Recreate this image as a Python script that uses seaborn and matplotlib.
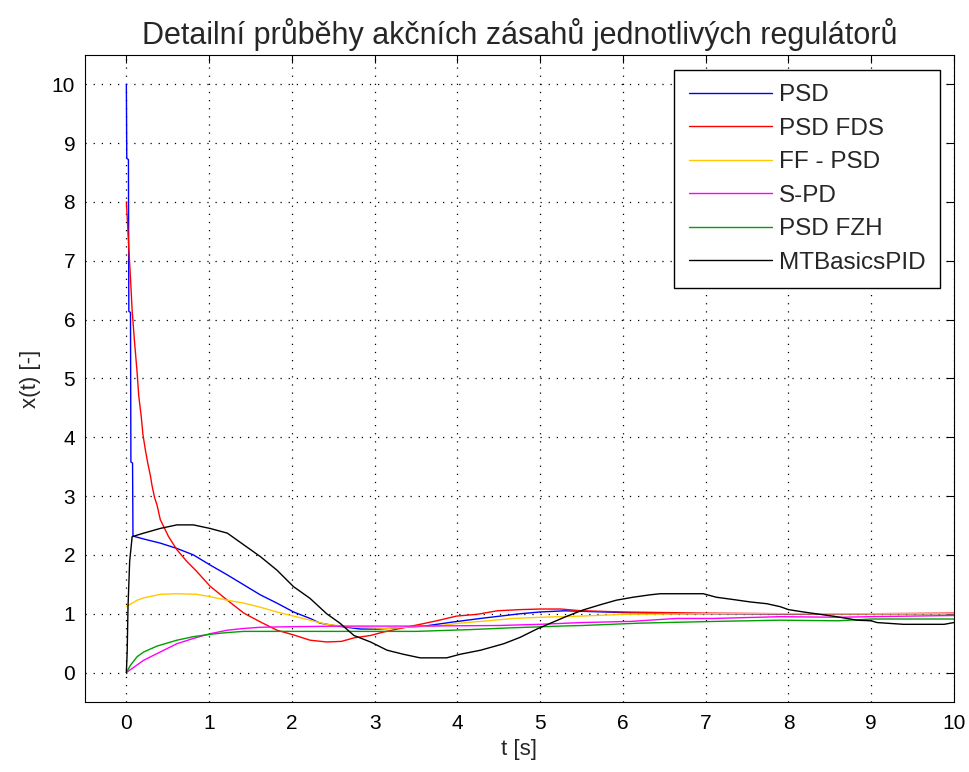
import numpy as np
import pandas as pd
import matplotlib
matplotlib.use("Agg")
import matplotlib.pyplot as plt
import seaborn as sns

# values
series_names = ["PSD", "PSD FDS", "FF - PSD", "S-PD", "PSD FZH", "MTBasicsPID"]
series_colors = ["#0000ff", "#ff0000", "#ffc800", "#ff00ff", "#00a000", "#000000"]

t_psd = [0, 0.005, 0.025, 0.03, 0.05, 0.055, 0.075, 0.08, 0.21, 0.41, 0.61, 0.81,
         1.01, 1.22, 1.42, 1.62, 1.82, 2.02, 2.22, 2.34, 2.55, 2.83, 3.05, 3.27,
         3.6, 3.75, 3.95, 4.28, 4.52, 4.76, 5.0, 5.3, 6.0, 6.6, 7.0, 8.0, 9.0, 10.0]
y_psd = [10, 8.74, 8.72, 6.14, 6.12, 3.58, 3.56, 2.32, 2.27, 2.2, 2.11, 2.0,
         1.83, 1.66, 1.49, 1.32, 1.18, 1.03, 0.92, 0.84, 0.79, 0.74, 0.74, 0.76,
         0.79, 0.82, 0.86, 0.92, 0.96, 1.0, 1.03, 1.05, 1.02, 1.0, 1.0, 0.99, 1.0, 1.0]

t_fds = [0, 0.01, 0.03, 0.05, 0.07, 0.1, 0.13, 0.15, 0.18, 0.2, 0.23, 0.26, 0.29,
         0.31, 0.34, 0.37, 0.41, 0.51, 0.61, 0.73, 0.85, 1.01, 1.22, 1.42, 1.62,
         1.82, 2.02, 2.22, 2.42, 2.6, 2.75, 2.95, 3.11, 3.31, 3.55, 3.75, 3.99,
         4.24, 4.48, 4.76, 5.0, 5.25, 5.5, 6.0, 6.5, 7.0, 8.0, 9.0, 10.0]
y_fds = [8.0, 7.75, 7.2, 6.7, 6.15, 5.6, 5.1, 4.7, 4.35, 4.05, 3.78, 3.55, 3.35,
         3.18, 2.98, 2.85, 2.6, 2.31, 2.09, 1.89, 1.72, 1.47, 1.23, 1.01, 0.86,
         0.72, 0.64, 0.55, 0.52, 0.53, 0.59, 0.63, 0.69, 0.75, 0.82, 0.88, 0.96,
         0.99, 1.05, 1.07, 1.08, 1.08, 1.05, 1.03, 1.02, 1.01, 1.0, 1.0, 1.01]

t_ff = [0, 0.13, 0.21, 0.41, 0.61, 0.85, 1.01, 1.22, 1.42, 1.62, 1.82, 2.02,
        2.22, 2.42, 2.67, 3.15, 3.47, 3.75, 4.03, 4.36, 4.68, 5.0, 5.5, 6.0,
        7.0, 8.0, 9.0, 10.0]
y_ff = [1.12, 1.23, 1.27, 1.33, 1.34, 1.33, 1.29, 1.23, 1.18, 1.11, 1.03, 0.96,
        0.89, 0.82, 0.78, 0.75, 0.78, 0.79, 0.84, 0.88, 0.92, 0.94, 0.96, 0.99,
        1.0, 1.0, 1.0, 1.0]

t_spd = [0, 0.21, 0.41, 0.61, 0.81, 1.01, 1.22, 1.42, 1.62, 2.02, 2.6, 3.5,
         4.5, 5.0, 5.5, 6.1, 6.65, 7.1, 7.9, 8.6, 9.0, 10.0]
y_spd = [0, 0.21, 0.35, 0.49, 0.58, 0.66, 0.72, 0.75, 0.77, 0.78, 0.79, 0.79,
         0.8, 0.82, 0.85, 0.87, 0.92, 0.92, 0.95, 0.94, 0.95, 0.97]

t_fzh = [0, 0.05, 0.13, 0.21, 0.37, 0.61, 0.81, 1.01, 1.22, 1.42, 1.62, 2.02,
         2.6, 3.5, 4.15, 4.64, 5.24, 5.51, 6.2, 7.13, 7.9, 8.6, 9.0, 10.0]
y_fzh = [0, 0.125, 0.27, 0.35, 0.45, 0.55, 0.61, 0.65, 0.68, 0.70, 0.70, 0.70,
         0.70, 0.70, 0.73, 0.76, 0.79, 0.80, 0.84, 0.87, 0.89, 0.88, 0.91, 0.91]

t_mtb = [0, 0.01, 0.02, 0.04, 0.07, 0.21, 0.41, 0.61, 0.81, 1.01, 1.22, 1.42,
         1.62, 1.82, 2.02, 2.22, 2.42, 2.58, 2.75, 2.95, 3.15, 3.35, 3.55, 3.87,
         4.03, 4.28, 4.56, 4.76, 4.96, 5.16, 5.31, 5.51, 5.72, 5.92, 6.12, 6.32,
         6.45, 6.97, 7.13, 7.34, 7.54, 7.74, 7.9, 8.0, 8.18, 8.38, 8.58, 8.83,
         9.0, 9.07, 9.39, 9.88, 10.0]
y_mtb = [0, 0.35, 1.12, 1.89, 2.31, 2.37, 2.45, 2.51, 2.51, 2.45, 2.37, 2.17,
         1.97, 1.74, 1.46, 1.26, 1.0, 0.84, 0.63, 0.52, 0.38, 0.31, 0.25, 0.25,
         0.31, 0.38, 0.49, 0.60, 0.74, 0.86, 0.95, 1.06, 1.15, 1.23, 1.28, 1.32,
         1.34, 1.34, 1.28, 1.24, 1.20, 1.17, 1.12, 1.07, 1.03, 0.99, 0.95, 0.89,
         0.88, 0.85, 0.82, 0.82, 0.85]

x_ticks = list(range(0, 11))
y_ticks = list(range(0, 11))

all_t = [t_psd, t_fds, t_ff, t_spd, t_fzh, t_mtb]
all_y = [y_psd, y_fds, y_ff, y_spd, y_fzh, y_mtb]
frames = []
for name, tt, yy in zip(series_names, all_t, all_y):
    frames.append(pd.DataFrame({"t": tt, "x": yy, "series": name}))
df = pd.concat(frames, ignore_index=True)

sns.set_style("white")
plt.rcParams["font.family"] = ["Liberation Sans", "DejaVu Sans"]

fig = plt.figure(figsize=(9.7, 7.72), dpi=100)
fig.patch.set_facecolor("white")
ax = fig.add_axes([0.0876, 0.0907, 0.8959, 0.8383])

sns.lineplot(data=df, x="t", y="x", hue="series", hue_order=series_names,
             palette=dict(zip(series_names, series_colors)), sort=False,
             estimator=None, linewidth=1.0, ax=ax)

ax.set_xlim(-0.5, 10)
ax.set_ylim(-0.5, 10.5)
ax.set_xticks(x_ticks)
ax.set_yticks(y_ticks)
ax.grid(True, linestyle=(0, (1, 5.5)), color="black", linewidth=0.9)
ax.tick_params(direction="in", length=6, width=0.8, top=True, right=True,
               labelsize=15, colors="black")
ax.tick_params(axis="x", pad=9)
ax.tick_params(axis="y", pad=7)
for sp in ax.spines.values():
    sp.set_visible(True)
    sp.set_color("black")
    sp.set_linewidth(0.8)

ax.set_title("Detailní průběhy akčních zásahů jednotlivých regulátorů",
             fontsize=22, pad=8)
ax.set_xlabel("t [s]", fontsize=16, labelpad=4)
ax.set_ylabel("x(t) [-]", fontsize=16, labelpad=8)

handles, labels = ax.get_legend_handles_labels()
leg = ax.legend(handles, labels, loc="upper right",
                bbox_to_anchor=(0.9839, 0.9768), borderaxespad=0,
                fontsize=17.5, handlelength=3.4, handletextpad=0.3,
                labelspacing=0.47, borderpad=0.6, fancybox=False,
                framealpha=1, edgecolor="black")
leg.get_frame().set_linewidth(1.0)

fig.savefig("out.png", dpi=100)
